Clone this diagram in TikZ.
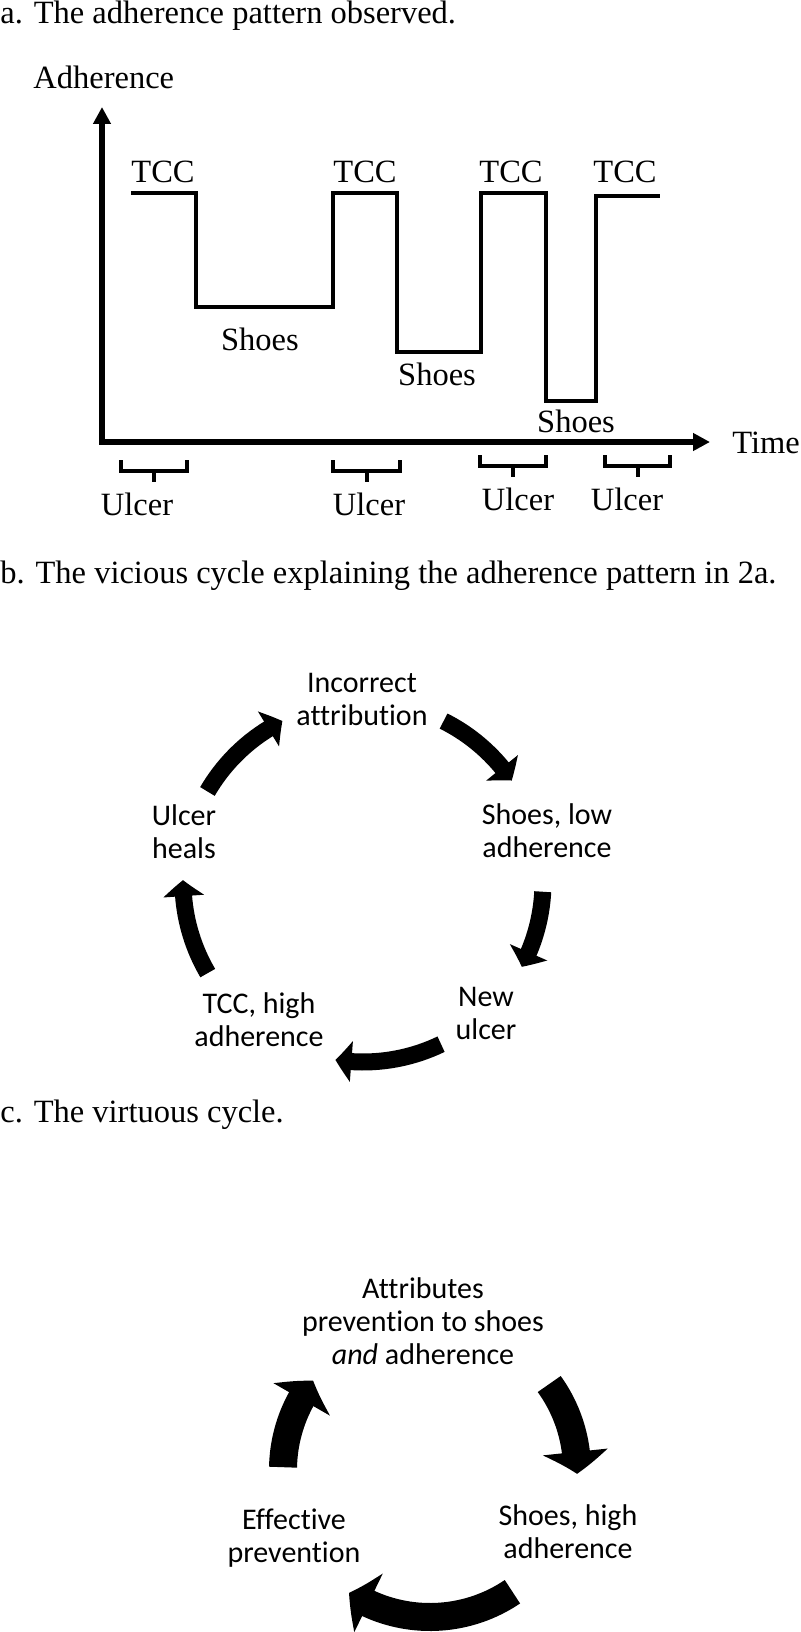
\documentclass[tikz,border=0pt]{standalone}
\usepackage{fontspec}
\setmainfont{Liberation Serif}
\newfontfamily\calib[Ligatures=NoCommon]{Carlito}
\usetikzlibrary{positioning,arrows.meta,bending}

\begin{document}
\begin{tikzpicture}[
  x=0.5pt, y=-0.5pt,
  >=Stealth,
  ttl/.style={anchor=base west, inner sep=0pt, font=\fontsize{16.25}{19}\selectfont},
  lbl/.style={anchor=base, inner sep=0pt, font=\fontsize{16.25}{19}\selectfont},
  cyc/.style={anchor=base, align=center, inner sep=0pt, font=\calib\fontsize{15}{16.5}\selectfont},
  axisline/.style={line width=3pt, {Triangle[width=8.5pt,length=8.5pt]}-{Triangle[width=8.5pt,length=8.5pt]}},
  trace/.style={line width=2pt},
  ubrace/.style={line width=2pt},
  loopb/.style={line width=8.5pt, -{Triangle[width=20pt,length=8pt,bend]}},
  loopc/.style={line width=14pt, -{Triangle[width=32pt,length=11pt,bend]}}
]
\useasboundingbox (0,0) rectangle (800,1632);

\node[ttl] (ta) at (0,24) {a. The adherence pattern observed.};
\node[ttl] (tb) at (0,583) {b. The vicious cycle explaining the adherence pattern in 2a.};
\node[ttl] (tc) at (0,1122) {c. The virtuous cycle.};

\coordinate (o) at (102,442);
\draw[axisline] (o |- 0,107) |- (710,442);
\node[lbl, anchor=base west] (adh) at (33,89) {Adherence};
\node[lbl, anchor=base west] (time) at (732,453) {Time};

\draw[trace] (131,193) -| (196,307) -| (333,193) -| (397,352) -| (481,193) -| (546,401) -| (596,196) -- (660,196);
\foreach \x [count=\n] in {163,365,511,625}
  \node[lbl] (tcc\n) at (\x,182) {TCC};
\node[lbl] (sh1) at (260,350) {Shoes};
\node[lbl] (sh2) at (437,385) {Shoes};
\node[lbl] (sh3) at (576,432) {Shoes};

\foreach \xa/\xb/\yt/\xu/\yu [count=\n] in {121/187/460/137/515, 333/400/460/369/515, 480/546/455/518/510, 605/670/455/627/510}{
  \draw[ubrace] (\xa,\yt) |- (\xb,\yt+11) -- (\xb,\yt);
  \draw[ubrace] ({(\xa+\xb)/2},\yt+11) -- ++(0,11);
  \node[lbl] (ul\n) at (\xu,\yu) {Ulcer};
}

\coordinate (cb) at (363,882);
\node[cyc] (attr) at (362,725) {Incorrect\\attribution};
\node[cyc] (low) at (547,857) {Shoes, low\\adherence};
\node[cyc] (newu) at (486,1039) {New\\ulcer};
\node[cyc] (tcch) at (259,1046) {TCC, high\\adherence};
\node[cyc] (heal) at (184,858) {Ulcer\\heals};
\foreach \a/\b in {-149.8/-116.6, -63.4/-34.3, 3.1/28.1, 64.3/98.8, 149.6/180.6}
  \draw[loopb] ([shift={(\a:180)}]cb) arc[start angle=\a, end angle=\b, radius=180];

\coordinate (cc) at (430,1470);
\node[cyc] (attp) at (423,1364) {Attributes\\prevention to shoes\\\textit{and} adherence};
\node[cyc] (shh) at (568,1558) {Shoes, high\\adherence};
\node[cyc] (eff) at (294,1562) {Effective\\prevention};
\foreach \a/\b in {-178.9/-142.6, -35.8/1.5, 55.9/123.4}
  \draw[loopc] ([shift={(\a:147)}]cc) arc[start angle=\a, end angle=\b, radius=147];
\end{tikzpicture}
\end{document}
